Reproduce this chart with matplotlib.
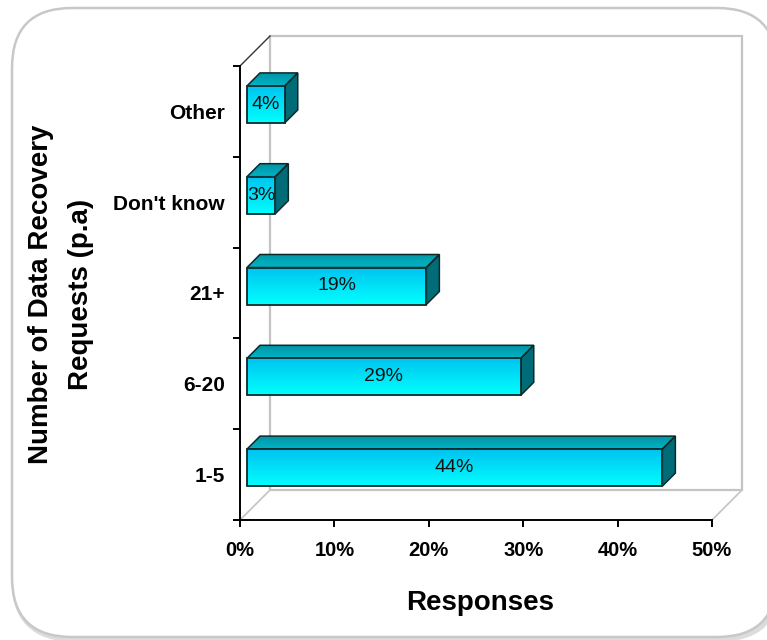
import numpy as np
import matplotlib
matplotlib.use('Agg')
import matplotlib.pyplot as plt
from matplotlib.patches import Polygon, Rectangle, FancyBboxPatch

categories = ["1-5", "6-20", "21+", "Don't know", "Other"]
responses = [44, 29, 19, 3, 4]
xticks = [0, 10, 20, 30, 40, 50]
xticklabels = ["0%", "10%", "20%", "30%", "40%", "50%"]

FONT = "Liberation Sans"
FRONT_TOP = np.array([0x00, 0xc2, 0xef]) / 255.0
FRONT_BOT = np.array([0x00, 0xff, 0xff]) / 255.0
TOP_BACK = np.array([0x00, 0x94, 0xa6]) / 255.0
TOP_FRONT = np.array([0x00, 0xb4, 0xc4]) / 255.0
SIDE = "#006c78"
EDGE = "#0a2a2a"
WALL = "#c4c4c4"

W, H = 767, 640
fig = plt.figure(figsize=(W / 100, H / 100), dpi=100)
fig.patch.set_facecolor("white")

# rounded frame around the chart, with a soft shadow
dpi_tr = fig.dpi_scale_trans
shadow = FancyBboxPatch((0.14, 0.01), 7.65, 6.29,
                        boxstyle="round,pad=0,rounding_size=0.6",
                        transform=dpi_tr, fc="none", ec="#dcdcdc", lw=4,
                        zorder=-2)
frame = FancyBboxPatch((0.12, 0.03), 7.65, 6.29,
                       boxstyle="round,pad=0,rounding_size=0.6",
                       transform=dpi_tr, fc="white", ec="#c8c8c8", lw=1.8,
                       zorder=-1)
fig.add_artist(shadow)
fig.add_artist(frame)

ax = fig.add_axes([240 / W, (H - 520) / H, 472 / W, 454 / H])
ax.set_xlim(0, 50)
ax.set_ylim(-0.5, len(categories) - 0.5)
ax.patch.set_visible(False)
for s in ["top", "right"]:
    ax.spines[s].set_visible(False)
for s in ["left", "bottom"]:
    ax.spines[s].set_linewidth(1.4)
    ax.spines[s].set_color("black")


def depth(px):
    # convert a pixel depth shift into data units (x right, y up)
    return px * 50 / ax.bbox.width, px * len(categories) / ax.bbox.height


ymin, ymax = -0.5, len(categories) - 0.5
wx, wy = depth(30)

# back wall, floor and left wall edges
ax.add_patch(Rectangle((wx, ymin + wy), 50, ymax - ymin, fc="white",
                       ec=WALL, lw=1.6, clip_on=False, zorder=0))
ax.plot([0, wx], [ymin, ymin + wy], color=WALL, lw=1.2, clip_on=False, zorder=1)
ax.plot([50, 50 + wx], [ymin, ymin + wy], color=WALL, lw=1.2, clip_on=False, zorder=1)
ax.plot([0, wx], [ymax, ymax + wy], color="#333333", lw=1.0, clip_on=False, zorder=1)

# 3D bars
bar_h = 37 * len(categories) / ax.bbox.height
fx, fy = depth(7)
bx, by = depth(20)
grad = np.linspace(0, 1, 64)[:, None]
front_img = FRONT_BOT + (FRONT_TOP - FRONT_BOT) * grad[..., None]
top_img = TOP_FRONT + (TOP_BACK - TOP_FRONT) * grad[..., None]

for i, v in enumerate(responses):
    y0 = i - bar_h / 2 + fy
    y1 = i + bar_h / 2 + fy
    x0, x1 = fx, v + fx
    # top face
    top = Polygon([(x0, y1), (x1, y1), (x1 + bx - fx, y1 + by - fy),
                   (x0 + bx - fx, y1 + by - fy)], closed=True,
                  fc="none", ec=EDGE, lw=1.1, zorder=4, clip_on=False)
    ax.add_patch(top)
    im = ax.imshow(top_img, extent=(x0, x1 + bx - fx, y1, y1 + by - fy),
                   origin="lower", aspect="auto", interpolation="bilinear",
                   zorder=3)
    im.set_clip_path(top)
    # right side face
    ax.add_patch(Polygon([(x1, y0), (x1 + bx - fx, y0 + by - fy),
                          (x1 + bx - fx, y1 + by - fy), (x1, y1)],
                         closed=True, fc=SIDE, ec=EDGE, lw=1.1, zorder=3,
                         clip_on=False))
    # front face
    ax.imshow(front_img, extent=(x0, x1, y0, y1), origin="lower",
              aspect="auto", interpolation="bilinear", zorder=5)
    ax.add_patch(Rectangle((x0, y0), v, y1 - y0, fc="none", ec=EDGE,
                           lw=1.3, zorder=6))
    ax.text((x0 + x1) / 2, (y0 + y1) / 2, "%d%%" % v, ha="center",
            va="center", fontsize=14, family=FONT, color="#111111",
            zorder=7)

ax.set_xlim(0, 50)
ax.set_ylim(ymin, ymax)

# axes ticks: boundaries get tick marks, centers get the labels
ax.set_xticks(xticks)
ax.set_xticklabels(xticklabels, fontsize=14.5, fontweight="bold", family=FONT)
ax.set_yticks(np.arange(ymin, ymax + 0.01, 1.0))
ax.set_yticklabels([])
ax.set_yticks(np.arange(len(categories)), minor=True)
ax.set_yticklabels(categories, minor=True, fontsize=15, fontweight="bold",
                   family=FONT)
ax.tick_params(axis="x", direction="out", length=5, width=1.4, pad=10)
ax.tick_params(axis="y", which="major", direction="out", length=5, width=1.4)
ax.tick_params(axis="y", which="minor", length=0, pad=11)

fig.text(480 / W, 1 - 603 / H, "Responses", ha="center", va="center",
         fontsize=20, fontweight="bold", family=FONT)
fig.text(61 / W, 1 - 294 / H, "Number of Data Recovery\nRequests (p.a)",
         ha="center", va="center", rotation=90, fontsize=20,
         fontweight="bold", family=FONT, linespacing=1.7)

fig.savefig("out.png", dpi=100)
